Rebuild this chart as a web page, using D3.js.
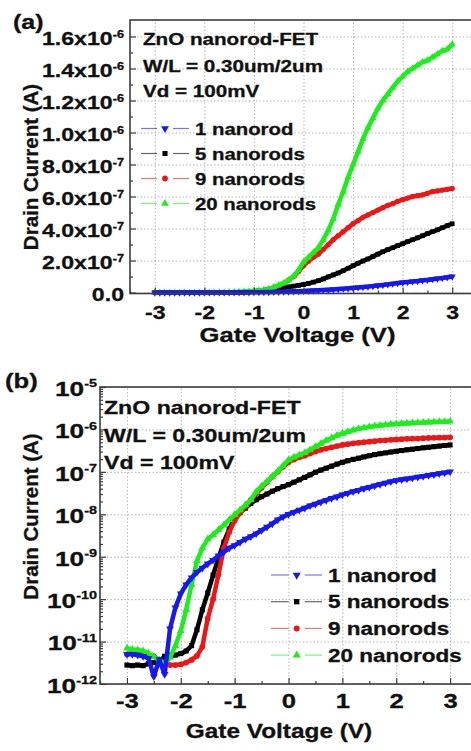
<!DOCTYPE html>
<html>
<head>
<meta charset="utf-8">
<script src="https://cdn.jsdelivr.net/npm/d3@7/dist/d3.min.js"></script>
<style>
  body { margin: 0; background: #fff; }
  svg text { font-family: "Liberation Sans", Arial, sans-serif; font-weight: bold; fill: #111; stroke: #111; stroke-width: 0.3px; }
</style>
</head>
<body>
<svg id="chart" width="471" height="751"></svg>
<script>
// gate sweep, V
const gateVoltage = [
  -3.0, -2.9, -2.8, -2.7, -2.6, -2.5, -2.4, -2.3, -2.2, -2.1,
  -2.0, -1.9, -1.8, -1.7, -1.6, -1.5, -1.4, -1.3, -1.2, -1.1,
  -1.0, -0.9, -0.8, -0.7, -0.6, -0.5, -0.4, -0.3, -0.2, -0.1,
  0.0, 0.1, 0.2, 0.3, 0.4, 0.5, 0.6, 0.7, 0.8, 0.9,
  1.0, 1.1, 1.2, 1.3, 1.4, 1.5, 1.6, 1.7, 1.8, 1.9,
  2.0, 2.1, 2.2, 2.3, 2.4, 2.5, 2.6, 2.7, 2.8, 2.9, 3.0
];

// drain current, A
const oneRod = [
  5.0e-12, 5.0e-12, 4.8e-12, 4.5e-12, 4.0e-12, 1.5e-12, 3.8e-12, 1.7e-12, 2.0e-11, 6.3e-11,
  1.35e-10, 2.2e-10, 3.2e-10, 4.3e-10, 5.4e-10, 6.8e-10, 8.3e-10, 1.05e-9, 1.3e-9, 1.6e-9,
  1.85e-9, 2.2e-9, 2.6e-9, 3.0e-9, 3.5e-9, 4.2e-9, 5.0e-9, 6.0e-9, 7.4e-9, 8.7e-9,
  1.0e-8, 1.12e-8, 1.26e-8, 1.4e-8, 1.6e-8, 1.75e-8, 1.95e-8, 2.15e-8, 2.4e-8, 2.6e-8,
  2.9e-8, 3.15e-8, 3.45e-8, 3.7e-8, 4.05e-8, 4.35e-8, 4.7e-8, 5.1e-8, 5.5e-8, 5.9e-8,
  6.3e-8, 6.6e-8, 6.9e-8, 7.2e-8, 7.6e-8, 7.9e-8, 8.3e-8, 8.7e-8, 9.1e-8, 9.5e-8, 1.0e-7
];
const fiveRods = [
  2.8e-12, 2.7e-12, 2.8e-12, 2.7e-12, 3.0e-12, 3.2e-12, 3.3e-12, 4.5e-12, 4.8e-12, 4.8e-12,
  5.2e-12, 6.0e-12, 8.0e-12, 1.9e-11, 5.6e-11, 1.4e-10, 3.7e-10, 9.3e-10, 2.2e-9, 4.5e-9,
  7.9e-9, 1.1e-8, 1.4e-8, 1.8e-8, 2.2e-8, 2.6e-8, 3.0e-8, 3.5e-8, 4.0e-8, 4.5e-8,
  5.0e-8, 5.7e-8, 6.5e-8, 7.4e-8, 8.5e-8, 9.8e-8, 1.1e-7, 1.22e-7, 1.36e-7, 1.52e-7,
  1.68e-7, 1.83e-7, 1.97e-7, 2.1e-7, 2.25e-7, 2.4e-7, 2.55e-7, 2.68e-7, 2.8e-7, 2.93e-7,
  3.05e-7, 3.18e-7, 3.3e-7, 3.42e-7, 3.55e-7, 3.68e-7, 3.8e-7, 3.92e-7, 4.05e-7, 4.18e-7, 4.3e-7
];
const nineRods = [
  5.0e-12, 5.5e-12, 5.3e-12, 5.0e-12, 4.8e-12, 4.5e-12, 3.6e-12, 2.9e-12, 2.8e-12, 2.8e-12,
  2.9e-12, 3.2e-12, 3.7e-12, 4.6e-12, 7.5e-12, 3.5e-11, 1.0e-10, 3.8e-10, 1.6e-9, 3.8e-9,
  7.1e-9, 1.07e-8, 1.5e-8, 2.2e-8, 3.0e-8, 4.2e-8, 5.7e-8, 7.7e-8, 1.0e-7, 1.32e-7,
  1.68e-7, 1.95e-7, 2.2e-7, 2.4e-7, 2.7e-7, 3.0e-7, 3.3e-7, 3.55e-7, 3.8e-7, 4.05e-7,
  4.3e-7, 4.5e-7, 4.7e-7, 4.85e-7, 5.0e-7, 5.15e-7, 5.3e-7, 5.45e-7, 5.55e-7, 5.7e-7,
  5.8e-7, 5.9e-7, 6.0e-7, 6.05e-7, 6.1e-7, 6.2e-7, 6.3e-7, 6.35e-7, 6.4e-7, 6.45e-7, 6.5e-7
];
const twentyRods = [
  7.0e-12, 6.5e-12, 6.3e-12, 6.0e-12, 5.3e-12, 4.4e-12, 3.7e-12, 3.0e-12, 4.2e-12, 8.0e-12,
  1.8e-11, 5.6e-11, 2.2e-10, 7.9e-10, 1.6e-9, 2.6e-9, 3.3e-9, 4.3e-9, 5.6e-9, 7.4e-9,
  9.8e-9, 1.26e-8, 1.66e-8, 2.2e-8, 3.4e-8, 4.6e-8, 5.9e-8, 7.8e-8, 1.03e-7, 1.4e-7,
  1.9e-7, 2.2e-7, 2.5e-7, 2.8e-7, 3.3e-7, 3.9e-7, 4.6e-7, 5.5e-7, 6.3e-7, 7.2e-7,
  8.0e-7, 8.8e-7, 9.6e-7, 1.03e-6, 1.09e-6, 1.15e-6, 1.2e-6, 1.24e-6, 1.28e-6, 1.32e-6,
  1.35e-6, 1.38e-6, 1.4e-6, 1.42e-6, 1.44e-6, 1.45e-6, 1.47e-6, 1.49e-6, 1.51e-6, 1.52e-6, 1.55e-6
];

const seriesNames = ["1 nanorod", "5 nanorods", "9 nanorods", "20 nanorods"];
const seriesValues = [oneRod, fiveRods, nineRods, twentyRods];
const seriesColors = ["#1717f2", "#000000", "#f01515", "#19f019"];
const drawOrder = [1, 2, 3, 0];

const voltageTicks = [-3, -2, -1, 0, 1, 2, 3];
const voltageMinor = [-3.5, -2.5, -1.5, -0.5, 0.5, 1.5, 2.5];
const linearTicks = [0, 2e-7, 4e-7, 6e-7, 8e-7, 1.0e-6, 1.2e-6, 1.4e-6, 1.6e-6];
const linearMinor = [1e-7, 3e-7, 5e-7, 7e-7, 9e-7, 1.1e-6, 1.3e-6, 1.5e-6];
const logTicks = [1e-12, 1e-11, 1e-10, 1e-9, 1e-8, 1e-7, 1e-6, 1e-5];
const noteLines = ["ZnO nanorod-FET", "W/L = 0.30um/2um", "Vd = 100mV"];

const SX = 1.25; // the scanned figure is stretched sideways

const svg = d3.select("#chart");

function symbolFor(s, size) {
  const types = [d3.symbolTriangle, d3.symbolSquare, d3.symbolCircle, d3.symbolTriangle];
  return d3.symbol(types[s], size)();
}

function stretched(g, x, y, size, anchor, str) {
  return g.append("text")
    .attr("transform", `translate(${x},${y}) scale(${SX},1)`)
    .attr("font-size", size)
    .attr("text-anchor", anchor)
    .text(str);
}

function linearLabel(text, d, f) {
  if (d === 0) { text.text("0.0"); return; }
  const exp = d >= 1e-6 ? -6 : -7;
  text.text(null);
  text.append("tspan").text((d / Math.pow(10, exp)).toFixed(1) + "x10");
  text.append("tspan").attr("dy", -0.42 * f).attr("font-size", 0.55 * f).text(exp);
}

function logLabel(text, d, f) {
  text.text(null);
  text.append("tspan").text("10");
  text.append("tspan").attr("dy", -0.42 * f).attr("font-size", 0.55 * f).text(Math.round(Math.log10(d)));
}

function drawPanel(p) {
  const g = svg.append("g");
  const x = d3.scaleLinear().domain([-3.5, 3.5]).range([p.left, p.right]);
  const y = p.y;
  const plotW = p.right - p.left;
  const plotH = p.bottom - p.top;

  // dotted grid
  g.append("g").attr("class", "grid").attr("transform", `translate(0,${p.bottom})`)
    .call(d3.axisBottom(x).tickValues(voltageTicks).tickSize(-plotH).tickFormat(""));
  g.append("g").attr("class", "grid").attr("transform", `translate(${p.left},0)`)
    .call(d3.axisLeft(y).tickValues(p.yTicks).tickSize(-plotW).tickFormat(""));
  g.selectAll(".grid .domain").remove();
  g.selectAll(".grid line")
    .attr("stroke", "#b5b5b5")
    .attr("stroke-width", 1)
    .attr("stroke-dasharray", "1.5,2");

  // curves: thick line + dense markers
  const line = d3.line().x((d, i) => x(gateVoltage[i])).y(d => y(d));
  drawOrder.forEach(s => {
    g.append("path")
      .datum(seriesValues[s])
      .attr("d", line)
      .attr("fill", "none")
      .attr("stroke", seriesColors[s])
      .attr("stroke-linejoin", "round")
      .attr("stroke-width", p.lineW);
    g.append("g").selectAll("path")
      .data(seriesValues[s])
      .join("path")
      .attr("transform", (d, i) => `translate(${x(gateVoltage[i])},${y(d)})` + (s === 0 ? " rotate(180)" : ""))
      .attr("d", symbolFor(s, p.markSize))
      .attr("fill", seriesColors[s]);
  });

  // frame
  g.append("rect")
    .attr("x", p.left).attr("y", p.top)
    .attr("width", plotW).attr("height", plotH)
    .attr("fill", "none")
    .attr("stroke", "#3c3c3c")
    .attr("stroke-width", 1.6);

  // bottom axis (ticks inward)
  const axB = g.append("g").attr("transform", `translate(0,${p.bottom})`)
    .call(d3.axisBottom(x).tickValues(voltageTicks).tickSize(-6).tickPadding(p.xPad).tickFormat(d => String(d)));
  axB.selectAll("text").attr("font-size", p.xFont).attr("transform", `scale(${SX},1)`);
  const axBm = g.append("g").attr("transform", `translate(0,${p.bottom})`)
    .call(d3.axisBottom(x).tickValues(voltageMinor).tickSize(-3).tickFormat(""));

  // left axis
  const axL = g.append("g").attr("transform", `translate(${p.left},0)`)
    .call(d3.axisLeft(y).tickValues(p.yTicks).tickSize(-6).tickPadding(p.yPad / SX));
  axL.selectAll("text")
    .attr("font-size", p.yFont)
    .attr("dy", p.yDy)
    .attr("transform", `scale(${SX},1)`)
    .each(function (d) { p.yLabel(d3.select(this), d, p.yFont); });
  const axLm = g.append("g").attr("transform", `translate(${p.left},0)`)
    .call(d3.axisLeft(y).tickValues(p.yMinor).tickSize(-3).tickFormat(""));

  [axB, axBm, axL, axLm].forEach(a => {
    a.select(".domain").remove();
    a.selectAll("line").attr("stroke", "#3c3c3c").attr("stroke-width", 1.2);
  });

  // titles
  g.append("text")
    .attr("transform", `translate(${p.yTitle[0]},${p.yTitle[1]}) rotate(-90)`)
    .attr("font-size", p.titleFont)
    .attr("text-anchor", "middle")
    .text("Drain Current (A)");
  stretched(g, p.xTitle[0], p.xTitle[1], p.xTitleFont, "middle", "Gate Voltage (V)");
  stretched(g, p.tag[0], p.tag[1], p.tagFont, "start", p.tagText);

  // device note
  noteLines.forEach((t, i) => {
    stretched(g, p.note.x, p.note.y[i], p.note.font, "start", t);
  });

  // legend
  const lg = p.legend;
  seriesNames.forEach((name, s) => {
    const cy = lg.y + s * lg.dy;
    [[lg.x1, lg.xm - 8], [lg.xm + 8, lg.x2]].forEach(seg => {
      g.append("line")
        .attr("x1", seg[0]).attr("x2", seg[1])
        .attr("y1", cy).attr("y2", cy)
        .attr("stroke", seriesColors[s])
        .attr("stroke-opacity", 0.6)
        .attr("stroke-width", 1.2);
    });
    g.append("path")
      .attr("transform", `translate(${lg.xm},${cy})` + (s === 0 ? " rotate(180)" : ""))
      .attr("d", symbolFor(s, lg.markSize))
      .attr("fill", seriesColors[s]);
    stretched(g, lg.xt, cy + lg.font * 0.37, lg.font, "start", name);
  });
}

// (a) linear scale
drawPanel({
  left: 130, right: 477, top: 20, bottom: 293.5,
  y: d3.scaleLinear().domain([-6e-9, 1.703e-6]).range([293.5, 20]),
  yTicks: linearTicks, yMinor: linearMinor, yLabel: linearLabel,
  yFont: 18.5, yPad: 6, yDy: "0.45em",
  xFont: 18.5, xPad: 12,
  lineW: 4.5, markSize: 22,
  titleFont: 20.5, yTitle: [38, 167],
  xTitleFont: 20.5, xTitle: [297.5, 342],
  tagText: "(a)", tag: [13, 29], tagFont: 20,
  note: { x: 143, y: [45, 71.5, 96.5], font: 16.5 },
  legend: { x1: 141, x2: 189, xm: 165, xt: 195, y: 128.5, dy: 25, font: 16.3, markSize: 26 }
});

// (b) log scale
drawPanel({
  left: 100, right: 477, top: 387, bottom: 684,
  y: d3.scaleLog().domain([1e-12, 1e-5]).range([684, 387]),
  yTicks: logTicks,
  yMinor: logTicks.slice(0, -1).flatMap(t => [2, 3, 4, 5, 6, 7, 8, 9].map(m => m * t)),
  yLabel: logLabel,
  yFont: 21, yPad: 3, yDy: "0.4em",
  xFont: 20.5, xPad: 9.5,
  lineW: 4.5, markSize: 26,
  titleFont: 20.5, yTitle: [38, 516.5],
  xTitleFont: 19.5, xTitle: [279, 738],
  tagText: "(b)", tag: [5, 388], tagFont: 20.5,
  note: { x: 104, y: [414, 441.5, 469], font: 18.5 },
  legend: { x1: 271, x2: 322, xm: 296.7, xt: 328, y: 575, dy: 26.7, font: 18, markSize: 28 }
});
</script>
</body>
</html>
